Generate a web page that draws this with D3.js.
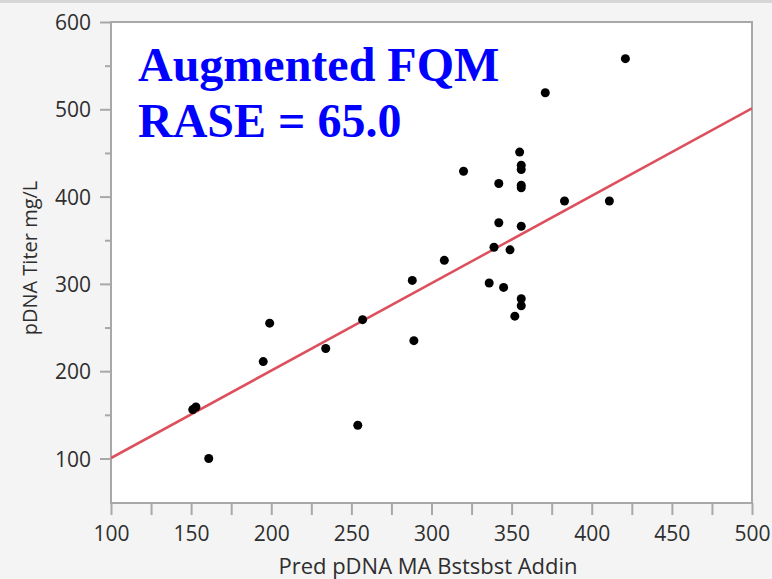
<!DOCTYPE html>
<html>
<head>
<meta charset="utf-8">
<script src="https://cdn.jsdelivr.net/npm/d3@7"></script>
<style>
	html, body { margin: 0; padding: 0; background: #f4f4f4; }
	svg { display: block; }
	.tick text { font-family: "Open Sans", sans-serif; font-size: 21px; fill: #2e2e2e; }
</style>
</head>
<body>
<svg id="chart" width="772" height="579"></svg>
<script>
	// values
	var predX = [421, 371, 355, 356, 356, 320, 342, 356, 356, 383, 411, 342, 356, 339, 349,
		308, 288, 336, 345, 356, 356, 352, 257, 289, 199, 195, 234, 153, 151, 161, 254];
	var titerY = [558, 519, 451, 436, 431, 429, 415, 413, 410, 395, 395, 370, 366, 342, 339,
		327, 304, 301, 296, 283, 275, 263, 259, 235, 255, 211, 226, 159, 156, 100, 138];
	var fitX = [100, 500];
	var fitY = [100.5, 501];
	var xTicks = [100, 150, 200, 250, 300, 350, 400, 450, 500];
	var yTicks = [100, 200, 300, 400, 500, 600];
	var titleLines = ["Augmented FQM", "RASE = 65.0"];

	var svg = d3.select("#chart");
	var width = 772, height = 579;
	var plot = { left: 111, top: 22, right: 752, bottom: 503 };

	var xScale = d3.scaleLinear()
		.domain([100, 500])
		.range([plot.left, plot.right]);
	var yScale = d3.scaleLinear()
		.domain([49, 600])
		.range([plot.bottom, plot.top]);

	// thin border at the very top
	svg.append("rect")
		.attr("x", 0).attr("y", 0)
		.attr("width", width).attr("height", 3)
		.attr("fill", "#d6d6d6");

	svg.append("rect")
		.attr("x", plot.left).attr("y", plot.top)
		.attr("width", plot.right - plot.left)
		.attr("height", plot.bottom - plot.top)
		.attr("fill", "#ffffff")
		.attr("stroke", "#a8a8a8")
		.attr("stroke-width", 2);

	// x axis: ticks every 25, labels every 50
	var xAxis = d3.axisBottom(xScale)
		.tickValues(d3.range(100, 501, 25))
		.tickSize(12)
		.tickPadding(11)
		.tickFormat(function(d) { return xTicks.indexOf(d) >= 0 ? d : ""; });
	var gx = svg.append("g")
		.attr("transform", "translate(0," + plot.bottom + ")")
		.call(xAxis);
	gx.select(".domain").remove();
	gx.selectAll(".tick line").attr("stroke", "#a8a8a8").attr("stroke-width", 2);

	// y axis: ticks every 50, longer at labelled ones
	var yAxis = d3.axisLeft(yScale)
		.tickValues(d3.range(100, 601, 50))
		.tickSize(11)
		.tickPadding(9)
		.tickFormat(function(d) { return yTicks.indexOf(d) >= 0 ? d : ""; });
	var gy = svg.append("g")
		.attr("transform", "translate(" + plot.left + ",0)")
		.call(yAxis);
	gy.select(".domain").remove();
	gy.selectAll(".tick line")
		.attr("stroke", "#a8a8a8")
		.attr("stroke-width", 2)
		.attr("x2", function(d) { return yTicks.indexOf(d) >= 0 ? -11 : -6; });
	gy.selectAll(".tick text").attr("dy", "0.36em");

	svg.append("text")
		.attr("x", 428)
		.attr("y", 574)
		.attr("text-anchor", "middle")
		.attr("font-family", "Open Sans, sans-serif")
		.attr("font-size", 22)
		.attr("fill", "#2e2e2e")
		.text("Pred pDNA MA Bstsbst Addin");

	svg.append("text")
		.attr("transform", "translate(37,258) rotate(-90)")
		.attr("text-anchor", "middle")
		.attr("font-family", "Open Sans, sans-serif")
		.attr("font-size", 20)
		.attr("fill", "#2e2e2e")
		.text("pDNA Titer mg/L");

	svg.append("clipPath").attr("id", "clip")
		.append("rect")
		.attr("x", plot.left).attr("y", plot.top)
		.attr("width", plot.right - plot.left)
		.attr("height", plot.bottom - plot.top);

	var line = d3.line()
		.x(function(d) { return xScale(d[0]); })
		.y(function(d) { return yScale(d[1]); });
	svg.append("path")
		.attr("clip-path", "url(#clip)")
		.attr("d", line(fitX.map(function(x, i) { return [x, fitY[i]]; })))
		.attr("fill", "none")
		.attr("stroke", "#dd4f5c")
		.attr("stroke-width", 2.5);

	svg.append("g")
		.selectAll("circle")
		.data(predX)
		.join("circle")
		.attr("cx", function(d) { return xScale(d); })
		.attr("cy", function(d, i) { return yScale(titerY[i]); })
		.attr("r", 4.5)
		.attr("fill", "#000");

	svg.append("g")
		.selectAll("text")
		.data(titleLines)
		.join("text")
		.attr("x", 138)
		.attr("y", function(d, i) { return 81 + i * 56; })
		.attr("font-family", "Liberation Serif, Times New Roman, serif")
		.attr("font-weight", "bold")
		.attr("font-size", 48)
		.attr("fill", "#0000ff")
		.text(function(d) { return d; });
</script>
</body>
</html>
